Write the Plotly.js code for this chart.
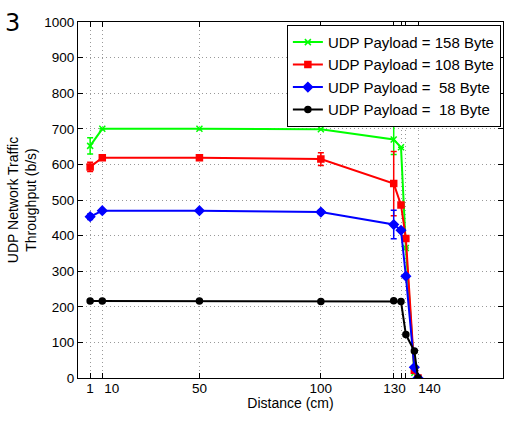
<!DOCTYPE html>
<html>
<head>
<meta charset="utf-8">
<script src="https://cdn.plot.ly/plotly-3.0.1.min.js"></script>
<style>html,body{margin:0;padding:0;background:#fff;}#chart{width:506px;height:423px;}</style>
</head>
<body>
<div id="chart"></div>
<script>
// Data
const distance = [5, 10, 50, 100, 130, 133, 135, 138.5, 140];
const payload158 = [652, 700, 700, 699, 670, 648, 365, 15, 0];
const payload158Err = [23, 0, 0, 0, 42, 0, 0, 0, 0];
const payload108 = [593, 619, 619, 615, 546, 486, 392, 22, 0];
const payload108Err = [13, 0, 0, 18, 90, 0, 0, 0, 0];
const payload58 = [453, 470, 470, 466, 431, 415, 286, 30, 0];
const payload58Err = [8, 0, 0, 6, 40, 0, 0, 0, 0];
const payload18 = [216, 216, 216, 215, 217, 215, 122, 76, 0];

const seriesNames = ['UDP Payload = 158 Byte', 'UDP Payload = 108 Byte',
                     'UDP Payload =\u00a0 58 Byte', 'UDP Payload =\u00a0 18 Byte'];

// Axis ticks (mark positions) and tick labels (label positions as drawn)
const xTickVals = [5, 10, 50, 100, 130, 133, 135, 140];
const xLabelVals = [4.9, 13.9, 50, 100, 130.3, 144.7];
const xLabelText = ['1', '10', '50', '100', '130', '140'];
const yTickVals = [0, 100, 200, 300, 400, 500, 600, 700, 800, 900, 1000];

const font = 'Liberation Sans, Arial, sans-serif';

function trace(y, err, name, color, symbol, size) {
  const t = {
    x: distance, y: y, name: name, type: 'scatter', mode: 'lines+markers',
    line: {color: color, width: 2},
    marker: {color: color, symbol: symbol, size: size, line: {color: color, width: 1.5}},
    xaxis: 'x', yaxis: 'y'
  };
  if (err) t.error_y = {type: 'data', array: err, visible: true, color: color, thickness: 1.5, width: 3};
  return t;
}

const data = [
  trace(payload158, payload158Err, seriesNames[0], '#00ff00', 'x-thin-open', 6),
  trace(payload108, payload108Err, seriesNames[1], '#ff0000', 'square', 6),
  trace(payload58, payload58Err, seriesNames[2], '#0000ff', 'diamond', 7),
  trace(payload18, null, seriesNames[3], '#000000', 'circle', 6),
  {x: [xLabelVals[0]], y: [0], xaxis: 'x2', yaxis: 'y', type: 'scatter', mode: 'markers',
   marker: {opacity: 0}, showlegend: false, hoverinfo: 'skip'}
];

const layout = {
  width: 506, height: 423,
  margin: {l: 78, r: 3, t: 22, b: 45},
  paper_bgcolor: '#fff', plot_bgcolor: '#fff',
  font: {family: font, size: 13, color: '#000'},
  showlegend: true,
  legend: {
    x: 0.995, xanchor: 'right', y: 0.992, yanchor: 'top',
    bgcolor: '#fff', bordercolor: '#000', borderwidth: 1,
    font: {family: font, size: 15, color: '#000'},
    tracegroupgap: 0, itemwidth: 30
  },
  xaxis: {
    range: [0, 175], tickvals: xTickVals, showticklabels: false,
    ticks: 'inside', ticklen: 5, tickcolor: '#000',
    showline: true, linecolor: '#000', linewidth: 1, mirror: 'ticks',
    showgrid: true, gridcolor: '#999', griddash: '1px,3px', gridwidth: 1,
    zeroline: false,
    title: {text: 'Distance (cm)', font: {family: font, size: 14}, standoff: 20}
  },
  xaxis2: {
    overlaying: 'x', anchor: 'y', side: 'bottom', range: [0, 175],
    tickmode: 'array', tickvals: xLabelVals, ticktext: xLabelText,
    ticks: '', showline: false, showgrid: false, zeroline: false,
    tickfont: {family: font, size: 13.5}
  },
  yaxis: {
    range: [0, 1000], tickvals: yTickVals,
    ticks: 'inside', ticklen: 5, tickcolor: '#000',
    showline: true, linecolor: '#000', linewidth: 1, mirror: 'ticks',
    showgrid: true, gridcolor: '#999', griddash: '1px,3px', gridwidth: 1,
    zeroline: false,
    tickfont: {family: font, size: 13.5},
    title: {text: 'UDP Network Traffic<br>Throughput (b/s)', font: {family: font, size: 14}, standoff: 4}
  },
  annotations: [{
    text: '3', xref: 'paper', yref: 'paper', x: -0.155, y: 0.997,
    xanchor: 'center', yanchor: 'middle', showarrow: false,
    font: {family: 'DejaVu Sans, sans-serif', size: 24, color: '#000'}
  }]
};

Plotly.newPlot('chart', data, layout, {displayModeBar: false, staticPlot: true});
</script>
</body>
</html>
